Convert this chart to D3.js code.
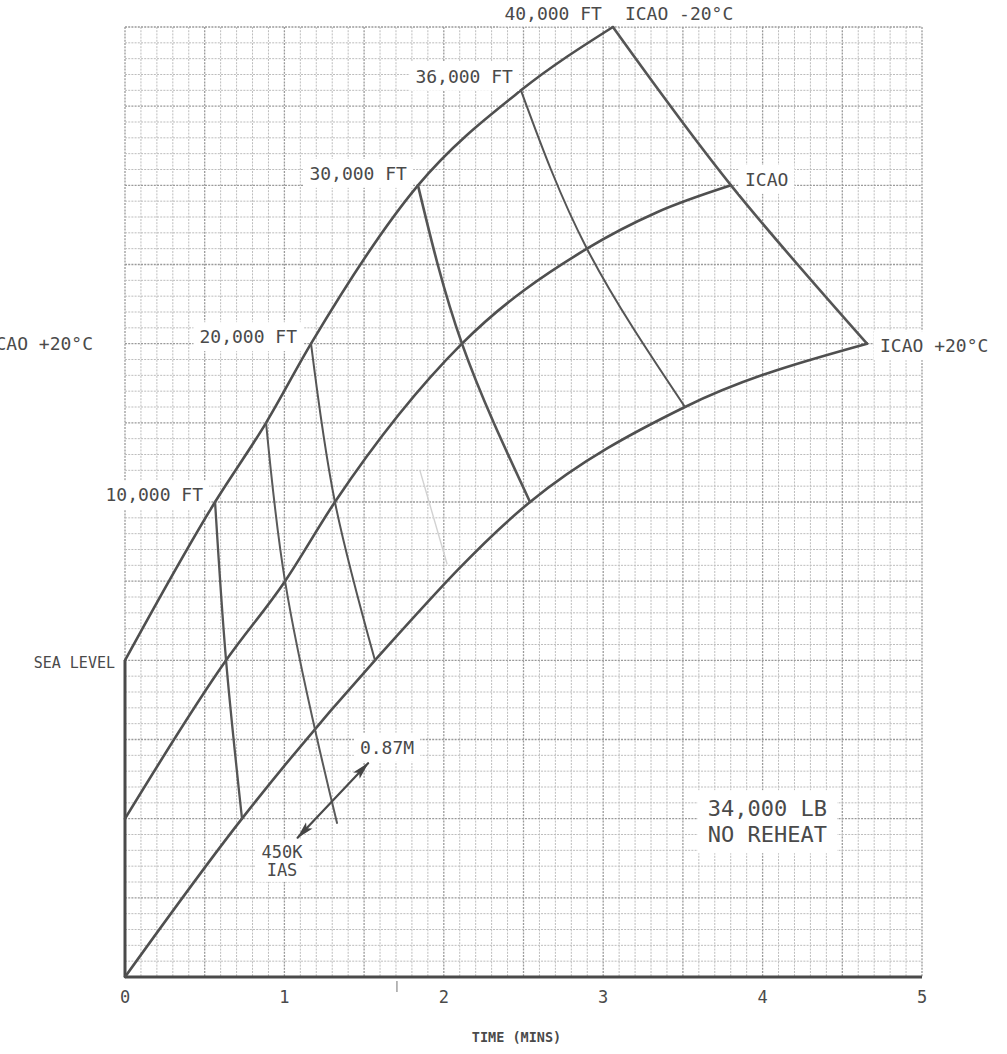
<!DOCTYPE html>
<html>
<head>
<meta charset="utf-8">
<script src="https://cdn.jsdelivr.net/npm/d3@7"></script>
<style>
  html, body { margin: 0; padding: 0; background: #ffffff; }
  svg { display: block; }
  text { font-family: "DejaVu Sans Mono", "Liberation Mono", monospace; fill: #4a4a4a; }
</style>
</head>
<body>
<svg id="chart" width="1007" height="1054"></svg>
<script>
// Climb to altitude, 34,000 lb, no reheat.
// Vertical scale: altitude (thousands of ft) plus a temperature shift.
const tempShift = { cold: 20, standard: 10, hot: 0 };

// ICAO -20°C
const coldAlt  = [0, 10, 15, 20, 30, 36, 40];
const coldTime = [0, 0.565, 0.885, 1.167, 1.838, 2.484, 3.061];
// ICAO standard day
const stdAlt  = [0, 10, 15, 20, 30, 36, 38.3, 40];
const stdTime = [0, 0.634, 1.004, 1.317, 2.114, 2.898, 3.338, 3.802];
// ICAO +20°C
const hotAlt  = [0, 10, 20, 30, 36, 40];
const hotTime = [0, 0.734, 1.568, 2.541, 3.513, 4.655];

// Altitude cross-lines joining the three temperature curves
const altitudeLines  = [10, 20, 30, 36, 40];
const altitudeLabels = ["10,000 FT", "20,000 FT", "30,000 FT", "36,000 FT", "40,000 FT"];
// 450 KIAS / 0.87M changeover: starts at 15,000 ft on the cold and standard curves,
// crosses the hot curve and runs on below it
const changeoverAlt = 15;
const changeoverLower = [[1.204, 15.1], [1.33, 9.73]];
// Double arrow across the changeover line
const arrowFrom = [1.083, 8.8];
const arrowTo   = [1.525, 13.5];
// Faint pencil line between the 20,000 and 30,000 ft lines
const faintLine = [[1.85, 32.0], [2.02, 26.1]];
// Short mark under the time axis
const axisMarkTime = [1.706];

const timeTicks = [0, 1, 2, 3, 4, 5];
const timeTickLabels = ["0", "1", "2", "3", "4", "5"];

const svg = d3.select("#chart");
const x = d3.scaleLinear().domain([0, 5]).range([125, 922]);
const y = d3.scaleLinear().domain([0, 60]).range([977, 27]);

// ---- graph-paper grid ----
const grid = svg.append("g");
const vSteps = d3.range(0, 51).map(i => i / 10);
const hSteps = d3.range(0, 61);
grid.selectAll("line.v").data(vSteps).join("line")
  .attr("x1", d => x(d)).attr("x2", d => x(d))
  .attr("y1", y(60)).attr("y2", y(0))
  .attr("stroke", (d, i) => i % 5 === 0 ? "#9a9a9a" : "#bdbdbd")
  .attr("stroke-width", (d, i) => i % 5 === 0 ? 1.3 : 1)
  .attr("stroke-dasharray", "2,1.2");
grid.selectAll("line.h").data(hSteps).join("line")
  .attr("y1", d => y(d)).attr("y2", d => y(d))
  .attr("x1", x(0)).attr("x2", x(5))
  .attr("stroke", d => d % 5 === 0 ? "#9a9a9a" : "#bdbdbd")
  .attr("stroke-width", d => d % 5 === 0 ? 1.3 : 1)
  .attr("stroke-dasharray", "2,1.2");

// ---- label helper with white masking box; lines may hold several rows ----
const labelLayer = svg.append("g");
function label(lines, px, py, opts = {}) {
  const rows = Array.isArray(lines) ? lines : [lines];
  const g = labelLayer.append("g");
  const size = opts.size || 18;
  const lh = opts.lineHeight || size;
  const t = g.append("text")
    .attr("x", px).attr("y", py + size * 0.36)
    .attr("text-anchor", opts.anchor || "start")
    .attr("font-size", size)
    .attr("font-weight", opts.weight || "normal");
  rows.forEach((r, i) => {
    t.append("tspan").attr("x", px).attr("dy", i === 0 ? 0 : lh).text(r);
  });
  if (opts.box !== false) {
    const b = t.node().getBBox();
    const padX = opts.padX ?? 6, padY = opts.padY ?? 4;
    g.insert("rect", "text")
      .attr("x", b.x - padX).attr("y", b.y - padY)
      .attr("width", b.width + 2 * padX).attr("height", b.height + 2 * padY)
      .attr("fill", "#ffffff");
  }
  return g;
}

// ---- axes ----
const axisG = svg.append("g");
axisG.append("line")
  .attr("x1", x(0)).attr("x2", x(5)).attr("y1", y(0)).attr("y2", y(0))
  .attr("stroke", "#4a4a4a").attr("stroke-width", 3.2);
axisG.append("line")
  .attr("x1", x(0)).attr("x2", x(0)).attr("y1", y(0)).attr("y2", y(tempShift.cold))
  .attr("stroke", "#4a4a4a").attr("stroke-width", 3);
axisG.selectAll("line.mark").data(axisMarkTime).join("line")
  .attr("x1", d => x(d)).attr("x2", d => x(d))
  .attr("y1", y(0) + 4).attr("y2", y(0) + 15)
  .attr("stroke", "#8a8a8a").attr("stroke-width", 1.2);
timeTicks.forEach((t, i) => {
  label(timeTickLabels[i], x(t), y(0) + 20, { anchor: "middle", size: 17, box: false });
});
label("TIME (MINS)", (x(0) + x(5)) / 2 - 7, y(0) + 60, { anchor: "middle", size: 13.5, weight: "bold", box: false });

// ---- curves ----
const curves = [
  { alt: coldAlt, time: coldTime, shift: tempShift.cold },
  { alt: stdAlt, time: stdTime, shift: tempShift.standard },
  { alt: hotAlt, time: hotTime, shift: tempShift.hot }
];
const pts = c => c.alt.map((a, i) => [c.time[i], a + c.shift]);
const lineGen = d3.line().x(d => x(d[0])).y(d => y(d[1]));
const plot = svg.append("g").attr("fill", "none").attr("stroke-linejoin", "round").attr("stroke-linecap", "round");

plot.append("path")
  .attr("d", lineGen.curve(d3.curveLinear)(faintLine))
  .attr("stroke", "#d2d2d2").attr("stroke-width", 1.4);

curves.forEach(c => {
  plot.append("path")
    .attr("d", lineGen.curve(d3.curveMonotoneX)(pts(c)))
    .attr("stroke", "#4f4f4f").attr("stroke-width", 2.6);
});

function pointAt(c, alt) {
  const i = c.alt.indexOf(alt);
  return [c.time[i], alt + c.shift];
}

const crossWidths = { 10: 2.3, 20: 2, 30: 2.6, 36: 2, 40: 2.6 };
altitudeLines.forEach(a => {
  const p = curves.map(c => pointAt(c, a));
  plot.append("path")
    .attr("d", lineGen.curve(d3.curveNatural)(p))
    .attr("stroke", "#555555").attr("stroke-width", crossWidths[a]);
});

// changeover line
const co = [pointAt(curves[0], changeoverAlt), pointAt(curves[1], changeoverAlt)].concat(changeoverLower);
plot.append("path")
  .attr("d", lineGen.curve(d3.curveNatural)(co))
  .attr("stroke", "#5a5a5a").attr("stroke-width", 2);

// double arrow
const defs = svg.append("defs");
defs.append("marker").attr("id", "ah").attr("viewBox", "0 0 18 10")
  .attr("refX", 17).attr("refY", 5).attr("markerWidth", 18).attr("markerHeight", 10)
  .attr("orient", "auto-start-reverse").attr("markerUnits", "userSpaceOnUse")
  .append("path").attr("d", "M0,0.5 L18,5 L0,9.5 L4,5 Z").attr("fill", "#454545");
plot.append("line")
  .attr("x1", x(arrowFrom[0])).attr("y1", y(arrowFrom[1]))
  .attr("x2", x(arrowTo[0])).attr("y2", y(arrowTo[1]))
  .attr("stroke", "#4a4a4a").attr("stroke-width", 2.2)
  .attr("marker-start", "url(#ah)").attr("marker-end", "url(#ah)");

// ---- labels ----
labelLayer.raise();
const cold = curves[0], std = curves[1], hot = curves[2];
const offsets = { 10: [-12, -7], 20: [-14, -7], 30: [-11, -12], 36: [-8, -14] };
altitudeLines.forEach((a, i) => {
  if (a === 40) return;
  const p = pointAt(cold, a);
  label(altitudeLabels[i], x(p[0]) + offsets[a][0], y(p[1]) + offsets[a][1], { anchor: "end" });
});
const apex = pointAt(cold, 40);
label(altitudeLabels[4], x(apex[0]) - 11, y(apex[1]) - 13, { anchor: "end", padY: 2 });
label("ICAO -20°C", x(apex[0]) + 12, y(apex[1]) - 13, { anchor: "start", padY: 2 });
const stdTop = pointAt(std, 40);
label("ICAO", x(stdTop[0]) + 14, y(stdTop[1]) - 6);
const hotTop = pointAt(hot, 40);
label("ICAO +20°C", x(hotTop[0]) + 13, y(hotTop[1]) + 2);
label("ICAO +20°C", 93, y(hotTop[1]), { anchor: "end", box: false });
label("SEA LEVEL", x(0) - 10, y(tempShift.cold) + 2, { anchor: "end", size: 15 });

label("0.87M", 387, y(arrowTo[1]) - 16, { anchor: "middle" });
label(["450K", "IAS"], 282, y(arrowFrom[1]) + 14, { anchor: "middle", size: 17, lineHeight: 18, padY: 2 });

label(["34,000 LB", "NO REHEAT"], x(4.03), y(11.6) + 15, { anchor: "middle", size: 22, lineHeight: 26, padX: 10, padY: 6 });
</script>
</body>
</html>
